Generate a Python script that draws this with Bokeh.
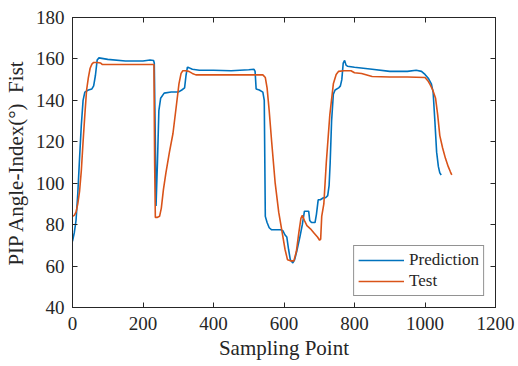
from bokeh.plotting import figure
from bokeh.models import Range1d, FixedTicker, LinearAxis, Legend, LegendItem
from bokeh.embed import file_html
from bokeh.resources import INLINE

# Prediction series (blue)
pred_x = [0, 5, 10, 15, 20, 25, 30, 35, 45, 55, 60, 65, 70, 75, 100, 150, 200, 220, 230, 232,
          235, 237, 241, 245, 250, 260, 280, 300, 310, 318, 322, 326, 330, 340, 360, 400, 450,
          500, 515, 518, 521, 530, 540, 544, 547, 552, 558, 565, 590, 597, 603, 608, 613, 618,
          625, 630, 636, 645, 652, 658, 662, 670, 673, 678, 688, 692, 697, 703, 712, 718, 724,
          728, 731, 735, 740, 745, 755, 760, 764, 768, 772, 776, 780, 800, 850, 900, 950, 975,
          990, 1000, 1010, 1018, 1023, 1028, 1033, 1038, 1042, 1046]
pred_y = [72, 76, 82, 95, 112, 128, 140, 144, 145, 145.5, 147, 152, 159.5, 160.5, 159.8, 159, 159,
          159.5, 159.2, 158, 120, 89, 110, 135, 141, 143.5, 144, 144, 145, 146, 152, 156, 155.8,
          155, 154.5, 154.5, 154.3, 154.8, 155, 154, 145.5, 145, 144, 140, 84, 81, 78.5, 77.5,
          77.5, 77, 75, 74, 68, 63, 61.5, 63, 67, 74, 80, 86.5, 86.5, 86.5, 82, 81, 81, 85, 92,
          92, 93, 93, 94, 99, 110, 130, 143, 145, 146, 147, 150, 158, 159.3, 157, 156.5, 156,
          155, 154, 154, 154.5, 154, 152.5, 150.5, 148, 144, 130, 115, 108, 105, 104]

# Test series (red)
test_x = [0, 5, 10, 15, 20, 25, 30, 35, 40, 45, 50, 55, 60, 70, 80, 85, 100, 150, 200, 231,
          233, 235, 240, 247, 252, 258, 265, 275, 285, 295, 302, 308, 313, 320, 330, 340, 350,
          400, 500, 540, 547, 552, 558, 565, 575, 585, 595, 603, 610, 620, 628, 635, 642, 648,
          652, 658, 665, 675, 685, 695, 701, 704, 707, 713, 720, 730, 740, 748, 755, 770, 790,
          800, 820, 840, 850, 900, 950, 1000, 1008, 1015, 1022, 1030, 1036, 1042, 1050, 1058,
          1066, 1072, 1076]
test_y = [84, 84.5, 86, 90, 96, 106, 120, 133, 145, 151, 155.5, 157.5, 158.3, 158.3, 158, 157.3,
          157.3, 157.3, 157.3, 157.3, 110, 83.5, 83.5, 84, 88, 97, 105, 115, 124, 138, 148, 153,
          154.3, 154.3, 154, 153, 152.3, 152.3, 152.3, 152.3, 151, 146, 135, 120, 100, 86, 76,
          68, 63, 62.5, 62.5, 67, 76, 83, 84.5, 82, 79.5, 78, 76, 74, 72.5, 73, 84, 90, 110,
          133, 148, 152.5, 154, 154.3, 154.3, 153.3, 153, 152, 151.5, 151.3, 151.3, 151, 149.5,
          147.5, 145, 141, 133, 123, 117, 112, 108, 105.5, 104]

x_ticks = [0, 200, 400, 600, 800, 1000, 1200]
y_ticks = [40, 60, 80, 100, 120, 140, 160, 180]

BLUE = "#0072BD"
RED = "#D95319"
FONT = "Liberation Serif"
INK = "#262626"

p = figure(width=518, height=366, output_backend="svg", toolbar_location=None,
           x_range=Range1d(0, 1200), y_range=Range1d(40, 180))
p.min_border_left = 71
p.min_border_right = 23
p.min_border_top = 17
p.min_border_bottom = 59
p.xgrid.visible = False
p.ygrid.visible = False
p.outline_line_color = INK
p.outline_line_width = 1
p.background_fill_color = "white"
p.border_fill_color = "white"

r_pred = p.line(pred_x, pred_y, line_color=BLUE, line_width=1.6)
r_test = p.line(test_x, test_y, line_color=RED, line_width=1.6)

for ax in (p.xaxis[0], p.yaxis[0]):
    ax.axis_line_color = INK
    ax.major_tick_in = 5
    ax.major_tick_out = 0
    ax.minor_tick_in = 0
    ax.minor_tick_out = 0
    ax.major_tick_line_color = INK
    ax.major_label_text_font = FONT
    ax.major_label_text_font_size = "19px"
    ax.major_label_text_color = INK
    ax.axis_label_text_font = FONT
    ax.axis_label_text_font_size = "21px"
    ax.axis_label_text_font_style = "normal"
    ax.axis_label_text_color = INK

p.xaxis[0].ticker = FixedTicker(ticks=x_ticks)
p.yaxis[0].ticker = FixedTicker(ticks=y_ticks)
p.xaxis[0].axis_label = "Sampling Point"
p.yaxis[0].axis_label = "PIP Angle-Index(°)\u00a0\u00a0Fist"
p.xaxis[0].major_label_standoff = 9
p.yaxis[0].major_label_standoff = 8
p.xaxis[0].axis_label_standoff = 3
p.yaxis[0].axis_label_standoff = 5

top = LinearAxis(ticker=FixedTicker(ticks=x_ticks),
                 major_label_overrides={t: "" for t in x_ticks},
                 major_label_text_font_size="1px",
                 major_tick_in=5, major_tick_out=0, minor_tick_in=0, minor_tick_out=0,
                 axis_line_color=INK, major_tick_line_color=INK, major_label_standoff=0)
right = LinearAxis(ticker=FixedTicker(ticks=y_ticks),
                   major_label_overrides={t: "" for t in y_ticks},
                   major_label_text_font_size="1px",
                   major_tick_in=5, major_tick_out=0, minor_tick_in=0, minor_tick_out=0,
                   axis_line_color=INK, major_tick_line_color=INK, major_label_standoff=0)
p.add_layout(top, "above")
p.add_layout(right, "right")

legend = Legend(items=[LegendItem(label="Prediction", renderers=[r_pred]),
                       LegendItem(label="Test", renderers=[r_test])])
legend.location = "bottom_right"
legend.margin = 11
legend.label_text_font = FONT
legend.label_text_font_size = "17px"
legend.label_text_color = INK
legend.border_line_color = INK
legend.border_line_width = 1
legend.glyph_width = 46
legend.glyph_height = 16
legend.label_height = 16
legend.spacing = 1
legend.padding = 4
legend.label_standoff = 5
legend.background_fill_alpha = 1
p.add_layout(legend)

open("out.html", "w").write(file_html(p, INLINE))
